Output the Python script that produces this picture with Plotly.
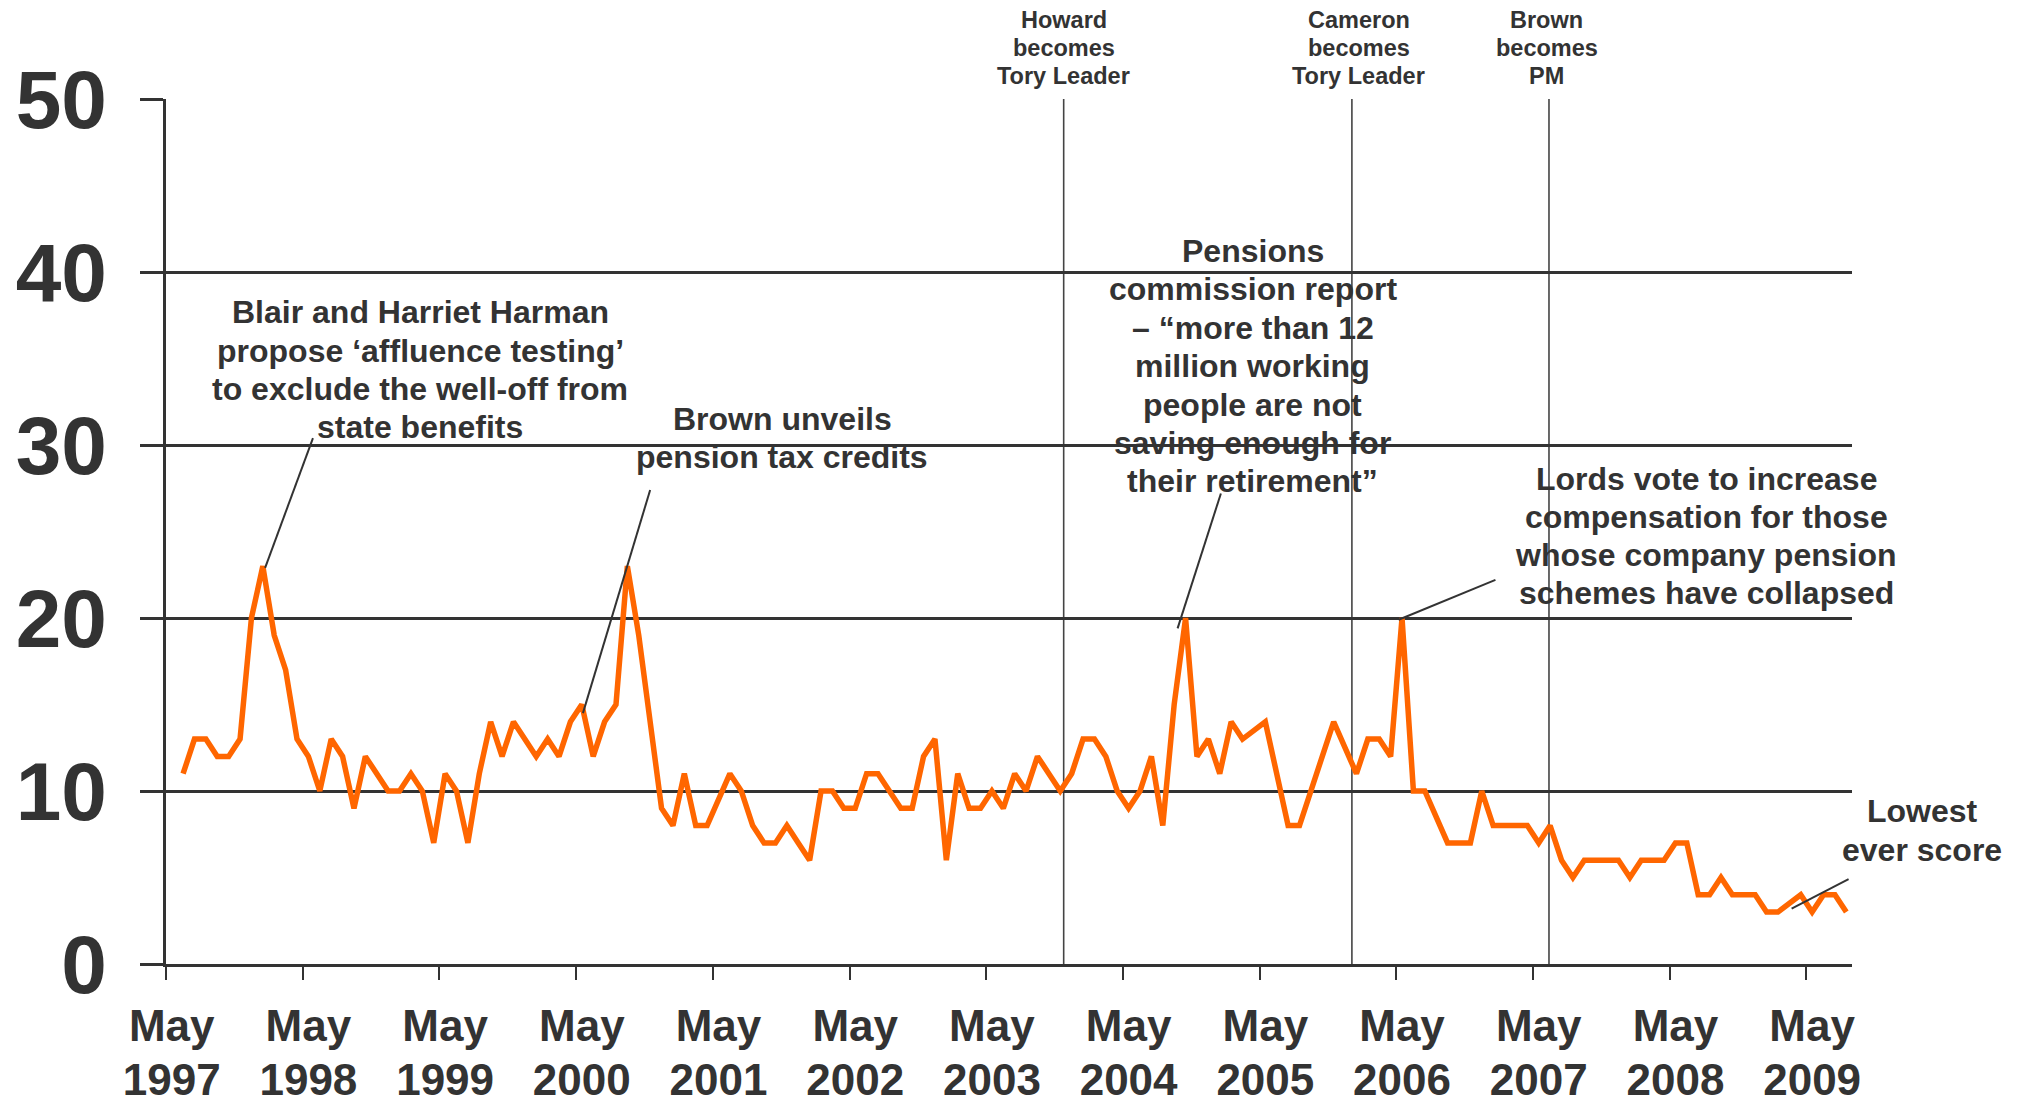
import plotly.graph_objects as go

# ---------------- data ----------------
# monthly categories May 1997 .. Aug 2009 (148 months)
month_names = ["May", "Jun", "Jul", "Aug", "Sep", "Oct", "Nov", "Dec",
               "Jan", "Feb", "Mar", "Apr"]
months = []
for yr in range(1997, 2010):
    for i, m in enumerate(month_names):
        months.append(f"{m} {yr if i < 8 else yr + 1}")
months = months[:148]

# score per month (None = no reading, line connected across)
vals_1997_98 = [None, 11, 13, 13, 12, 12, 13, 20, 23, 19, 17, 13]
vals_1998_99 = [12, 10, 13, 12, 9, 12, 11, 10, 10, 11, 10, 7]
vals_1999_00 = [11, 10, 7, 11, 14, 12, 14, 13, 12, 13, 12, 14]
vals_2000_01 = [15, 12, 14, 15, 23, 19, 14, 9, 8, 11, 8, 8]
vals_2001_02 = [None, 11, 10, 8, 7, 7, 8, 7, 6, 10, 10, 9]
vals_2002_03 = [9, 11, 11, 10, 9, 9, 12, 13, 6, 11, 9, 9]
vals_2003_04 = [10, 9, 11, 10, 12, 11, 10, 11, 13, 13, 12, 10]
vals_2004_05 = [9, 10, 12, 8, 15, 20, 12, 13, 11, 14, 13, None]
vals_2005_06 = [14, 11, 8, 8, 10, 12, 14, None, 11, 13, 13, 12]
vals_2006_07 = [20, 10, 10, None, 7, 7, 7, 10, 8, 8, 8, 8]
vals_2007_08 = [7, 8, 6, 5, 6, 6, 6, 6, 5, 6, 6, 6]
vals_2008_09 = [7, 7, 4, 4, 5, 4, 4, 4, 3, 3, None, 4]
vals_2009 = [3, 4, 4, 3]

values = (vals_1997_98 + vals_1998_99 + vals_1999_00 + vals_2000_01 +
          vals_2001_02 + vals_2002_03 + vals_2003_04 + vals_2004_05 +
          vals_2005_06 + vals_2006_07 + vals_2007_08 + vals_2008_09 + vals_2009)

x_pos = list(range(len(months)))

tick_years = list(range(1997, 2010))
tick_month_labels = ["May"] * len(tick_years)
tick_year_labels = [str(y) for y in tick_years]
tick_idx = [months.index(f"May {y}") for y in tick_years]

y_ticks = [0, 10, 20, 30, 40, 50]

# event lines: label, line position (month index), label x
events = [("Howard<br>becomes<br>Tory Leader", 78.3, 78.3),
          ("Cameron<br>becomes<br>Tory Leader", 103.6, 104.2),
          ("Brown<br>becomes<br>PM", 120.9, 120.7)]

# callouts: text, text x, x ref, text y, pointer start (x,y), pointer end (x,y), line gap px
callouts = [
    ("Blair and Harriet Harman<br>propose \u2018affluence testing\u2019<br>to exclude the well-off from<br>state benefits",
     21.8, "x", 34.35, (12.4, 30.4), (8.2, 22.9), 38.4),
    ("Brown unveils<br>pension tax credits", 53.6, "x", 30.4, (42.0, 27.4), (36.1, 14.5), 38.6),
    ("Pensions<br>commission report<br>\u2013 \u201cmore than 12<br>million working<br>people are not<br>saving enough for<br>their retirement\u201d",
     94.9, "x", 34.55, (92.1, 27.2), (88.3, 19.4), 38.4),
    ("Lords vote to increase<br>compensation for those<br>whose company pension<br>schemes have collapsed",
     134.7, "x", 24.75, (116.2, 22.2), (107.7, 19.9), 38.2),
    ("Lowest<br>ever score", 1.0418, "paper", 7.72, (147.2, 4.9), (142.2, 3.2), 39.7),
]

# ---------------- figure ----------------
FONT = "Liberation Sans, Arial, Helvetica, sans-serif"
DARK = "#333333"
ORANGE = "#FF6600"

fig = go.Figure()
fig.add_trace(go.Scatter(x=x_pos, y=values, mode="lines", connectgaps=True,
                         line=dict(color=ORANGE, width=5.5), hoverinfo="skip",
                         showlegend=False))
# invisible copy that carries the second (year-label) x axis
fig.add_trace(go.Scatter(x=x_pos, y=values, mode="lines", connectgaps=True,
                         xaxis="x2", yaxis="y", opacity=0,
                         line=dict(color=ORANGE, width=0.1), hoverinfo="skip",
                         showlegend=False))

shapes = []
annotations = []


def add_block(text, x, xref, y, yref, gap, size):
    lines = text.split("<br>")
    n = len(lines)
    for i, ln in enumerate(lines):
        annotations.append(dict(text=ln, x=x, y=y, xref=xref, yref=yref,
                                yshift=((n - 1) / 2 - i) * gap,
                                showarrow=False, xanchor="center", yanchor="middle",
                                align="center",
                                font=dict(family=FONT, size=size, color=DARK,
                                          weight="bold")))


for text, xl, xt in events:
    shapes.append(dict(type="line", xref="x", yref="y", x0=xl, x1=xl, y0=0, y1=50,
                       line=dict(color="#444444", width=1.6), layer="below"))
    add_block(text, xt, "x", 1.059, "paper", 28.2, 23.5)

for text, tx, xref, ty, p0, p1, gap in callouts:
    add_block(text, tx, xref, ty, "y", gap, 32)
    shapes.append(dict(type="line", xref="x", yref="y", x0=p0[0], y0=p0[1],
                       x1=p1[0], y1=p1[1], line=dict(color=DARK, width=2)))

axis_font = dict(family=FONT, size=44, color=DARK, weight="bold")
x_range = [-0.5, len(months) - 0.5]

fig.update_layout(
    width=2027, height=1097,
    margin=dict(l=158, r=183, t=91, b=141, pad=0, autoexpand=False),
    paper_bgcolor="white", plot_bgcolor="white",
    shapes=shapes, annotations=annotations,
    showlegend=False,
    xaxis=dict(range=x_range, tickmode="array", automargin=False,
               tickvals=tick_idx, ticktext=tick_month_labels, ticks="",
               showgrid=False, zeroline=False, showline=True,
               linecolor=DARK, linewidth=2.5,
               tickfont=axis_font, ticklabelstandoff=21,
               minor=dict(tickmode="array", tickvals=[i - 0.5 for i in tick_idx],
                          ticks="outside", ticklen=13, tickwidth=2,
                          tickcolor=DARK, showgrid=False)),
    xaxis2=dict(range=x_range, overlaying="x", anchor="y", automargin=False,
                side="bottom", tickmode="array", tickvals=tick_idx,
                ticktext=tick_year_labels, ticks="", showgrid=False,
                zeroline=False, showline=False,
                tickfont=axis_font, ticklabelstandoff=86),
    yaxis=dict(range=[0, 50], tickmode="array", tickvals=y_ticks, automargin=False,
               showgrid=True, gridcolor=DARK, gridwidth=2.5,
               ticks="outside", ticklen=23, tickwidth=2.5, tickcolor=DARK,
               showline=True, linecolor=DARK, linewidth=2.5, zeroline=False,
               tickfont=dict(family=FONT, size=82, color=DARK, weight="bold"),
               ticklabelstandoff=17),
)

fig.write_html("out.html")
